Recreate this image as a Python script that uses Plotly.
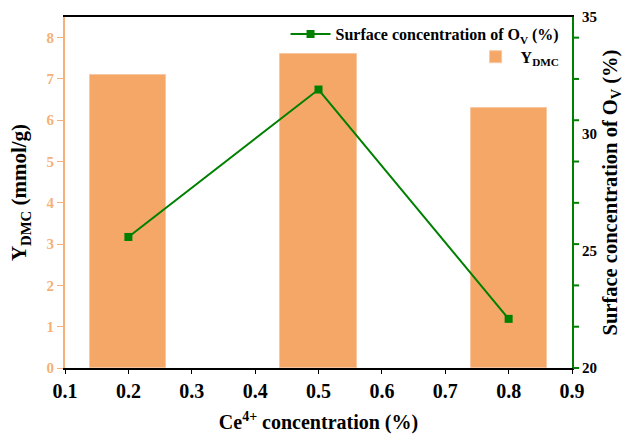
import plotly.graph_objects as go

# Ce4+ concentration (%) and measured responses
ce_conc = [0.2, 0.5, 0.8]
y_dmc = [7.1, 7.6, 6.3]               # mmol/g
ov_surface = [25.6, 31.9, 22.1]       # %

x_ticks = [0.1, 0.2, 0.3, 0.4, 0.5, 0.6, 0.7, 0.8, 0.9]
left_ticks = [0, 1, 2, 3, 4, 5, 6, 7, 8]
right_ticks = [20, 25, 30, 35]

LEFT_MAX = 8.5
RIGHT_MIN, RIGHT_MAX = 20, 35

ORANGE = "#F4A767"
ORANGE_AXIS = "#F6B07A"
GREEN = "#008000"
FONT = "'Times New Roman', 'Liberation Serif', serif"

fig = go.Figure()

fig.add_trace(go.Bar(
    x=ce_conc, y=y_dmc, width=0.12,
    marker=dict(color=ORANGE, line=dict(color="#F8C7A0", width=1)),
    name="Y<sub>DMC</sub>", legend="legend2", yaxis="y",
))

fig.add_trace(go.Scatter(
    x=ce_conc, y=ov_surface, mode="lines+markers",
    line=dict(color=GREEN, width=2),
    marker=dict(symbol="square", size=8, color=GREEN),
    name="Surface concentration of O<sub>V</sub> (%)", legend="legend", yaxis="y2",
))

# green tick marks on the right spine, level with the left-axis ticks
# (paper coordinates so they are not clipped to the plotting area)
for v in left_ticks:
    frac = v / LEFT_MAX
    fig.add_shape(
        type="line", xref="paper", yref="paper", x0=1.002, x1=1.014, y0=frac, y1=frac,
        line=dict(color=GREEN, width=2), layer="above",
    )

fig.update_layout(
    width=624, height=434,
    margin=dict(l=65, r=52, t=17, b=66),
    plot_bgcolor="white", paper_bgcolor="white",
    font=dict(family=FONT, color="black"),
    showlegend=True,
    xaxis=dict(
        range=[0.1, 0.9], tickvals=x_ticks, ticktext=[f"{v:.1f}" for v in x_ticks],
        showline=True, linecolor="black", linewidth=2, mirror=True,
        ticks="outside", ticklen=4, tickcolor="black", showgrid=False, zeroline=False,
        automargin=False,
        tickfont=dict(size=20, family=FONT, weight="bold"),
        title=dict(text="Ce<sup>4+</sup> concentration (%)", standoff=26,
                   font=dict(size=20, family=FONT, weight="bold")),
    ),
    yaxis=dict(
        range=[0, LEFT_MAX], tickvals=left_ticks,
        showline=True, linecolor=ORANGE_AXIS, linewidth=2,
        ticks="outside", ticklen=6, tickcolor=ORANGE_AXIS, showgrid=False, zeroline=False,
        automargin=False,
        tickfont=dict(size=15, color=ORANGE_AXIS, family=FONT, weight="bold"),
        title=dict(text="Y<sub>DMC</sub> (mmol/g)", standoff=14,
                   font=dict(size=21, family=FONT, weight="bold")),
    ),
    yaxis2=dict(
        range=[RIGHT_MIN, RIGHT_MAX], tickvals=right_ticks,
        overlaying="y", side="right", anchor="x",
        showline=True, linecolor=GREEN, linewidth=2,
        ticks="", showgrid=False, zeroline=False, ticklabelstandoff=5,
        automargin=False,
        tickfont=dict(size=15, color="black", family=FONT, weight="bold"),
        title=dict(text="Surface concentration of O<sub>V</sub> (%)", standoff=12,
                   font=dict(size=20.5, family=FONT, weight="bold")),
    ),
    legend=dict(
        x=0.435, y=1.0, xanchor="left", yanchor="top",
        bgcolor="rgba(0,0,0,0)", itemwidth=40,
        font=dict(size=16, family=FONT, weight="bold"),
    ),
    legend2=dict(
        x=0.8, y=0.935, xanchor="left", yanchor="top",
        bgcolor="rgba(0,0,0,0)", itemwidth=40,
        font=dict(size=16, family=FONT, weight="bold"),
    ),
    bargap=0,
)

fig.write_html("out.html")
